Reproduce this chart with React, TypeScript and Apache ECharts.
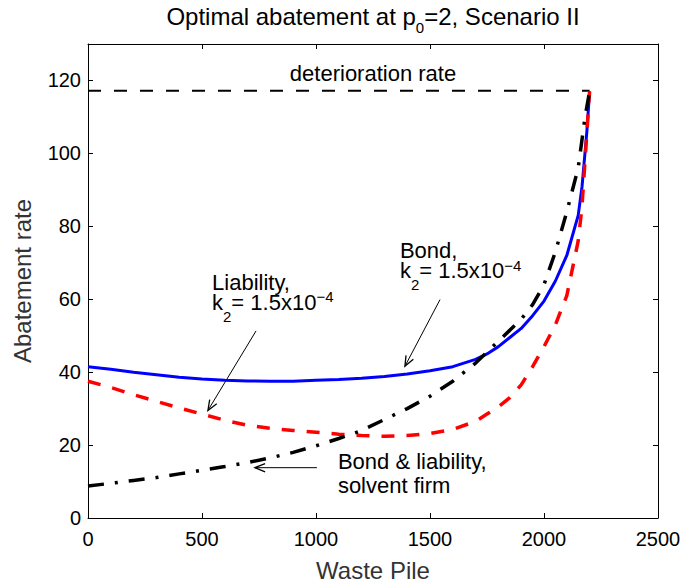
import React, { useEffect, useRef } from "react";
import * as echarts from "echarts";

const FONT = '"Liberation Sans", Arial, Helvetica, sans-serif';

// Axis ranges
const X_MIN = 0;
const X_MAX = 2500;
const X_STEP = 500;
const Y_MIN = 0;
const Y_MAX = 130;
const Y_STEP = 20;

// Bond, k2 = 1.5e-4 (blue solid)
const bondX = [0, 100, 200, 300, 400, 500, 600, 700, 800, 900, 1000, 1100, 1200, 1300, 1400, 1500, 1600, 1700, 1750, 1800, 1850, 1900, 1950, 2000, 2050, 2100, 2150, 2167, 2188, 2200];
const bondY = [41.5, 40.8, 40, 39.3, 38.6, 38.1, 37.8, 37.6, 37.5, 37.5, 37.8, 38, 38.3, 38.8, 39.5, 40.4, 41.5, 43.5, 45, 47, 49.5, 52, 55.5, 59.5, 65, 72, 83, 91, 106, 117];

// Liability, k2 = 1.5e-4 (red dashed)
const liabX = [0, 100, 200, 300, 400, 500, 600, 700, 800, 900, 1000, 1100, 1200, 1300, 1400, 1500, 1600, 1700, 1750, 1800, 1850, 1900, 1950, 2000, 2050, 2100, 2150, 2166, 2180, 2200];
const liabY = [37.5, 35.8, 33.8, 32, 30.2, 28.5, 26.8, 25.4, 24.6, 24, 23.5, 23, 22.6, 22.4, 22.6, 23.2, 24.3, 26.5, 28.5, 30.5, 33, 36.5, 41.5, 47, 53, 61, 76, 85, 98, 117];

// Bond & liability, solvent firm (black dash-dot)
const solvX = [0, 100, 200, 300, 400, 500, 600, 700, 800, 900, 1000, 1100, 1200, 1300, 1400, 1500, 1600, 1700, 1800, 1900, 1950, 2000, 2050, 2100, 2150, 2180, 2200];
const solvY = [8.8, 9.5, 10.3, 11.1, 12.1, 13.1, 14.1, 15.2, 16.5, 18, 19.8, 21.8, 24, 27, 30, 33.4, 37.5, 42.5, 48.5, 54.5, 58.5, 64, 73, 84, 96, 110, 117];

// Deterioration rate (black dashed)
const detX = [0, 2200];
const detY = [117.2, 117.2];

// Title and annotations (data coordinates)
const TITLE = "{m|Optimal abatement at p}{s|0}{m|=2, Scenario II}";
const TITLE_AT = [1250, 137.5];
const annotations = [
  { text: "{m|deterioration rate}", at: [1250, 122], align: "center", lh: 26 },
  { text: "{m|Liability,}\n{m|k}{s|2}{m|= 1.5x10}{p|\u22124}", at: [544, 61.95], align: "left", lh: 20 },
  { text: "{m|Bond,}\n{m|k}{s|2}{m|= 1.5x10}{p|\u22124}", at: [1368, 70.6], align: "left", lh: 20 },
  { text: "{m|Bond & liability,}\n{m|solvent firm}", at: [1096, 12.2], align: "left", lh: 23.4 },
];
const arrows = [
  { from: [737, 51.3], to: [526, 29.5] },
  { from: [1544, 59.9], to: [1390, 41.6] },
  { from: [1004, 13.8], to: [732, 13.8] },
];

const zip = (xs: number[], ys: number[]) => xs.map((x, i) => [x, ys[i]]);

export default function App() {
  const ref = useRef<HTMLDivElement>(null);

  useEffect(() => {
    const el = ref.current!;
    const chart = echarts.init(el, null, { renderer: "svg" });

    const axisCommon = {
      type: "value" as const,
      axisLine: { show: true, onZero: false, lineStyle: { color: "#000", width: 1 } },
      axisTick: { show: true, inside: true, length: 5, lineStyle: { color: "#000", width: 1 } },
      splitLine: { show: false },
    };

    chart.setOption({
      animation: false,
      backgroundColor: "#fff",
      grid: { left: 88, right: 28, top: 44, bottom: 68, containLabel: false },
      xAxis: [
        {
          ...axisCommon,
          position: "bottom",
          min: X_MIN,
          max: X_MAX,
          interval: X_STEP,
          name: "Waste Pile",
          nameLocation: "middle",
          nameGap: 40,
          nameTextStyle: { fontSize: 24, color: "#333", fontFamily: FONT },
          axisLabel: {
            fontSize: 20,
            color: "#000",
            fontFamily: FONT,
            margin: 11,
            formatter: (v: number) => String(v),
          },
        },
        {
          ...axisCommon,
          position: "top",
          min: X_MIN,
          max: X_MAX,
          interval: X_STEP,
          axisLabel: { show: false },
        },
      ],
      yAxis: [
        {
          ...axisCommon,
          position: "left",
          min: Y_MIN,
          max: Y_MAX,
          interval: Y_STEP,
          name: "Abatement rate",
          nameLocation: "middle",
          nameGap: 54,
          nameTextStyle: { fontSize: 24, color: "#333", fontFamily: FONT },
          axisLabel: {
            fontSize: 20,
            color: "#000",
            fontFamily: FONT,
            margin: 7,
            showMaxLabel: false,
            formatter: (v: number) => String(v),
          },
        },
        {
          ...axisCommon,
          position: "right",
          min: Y_MIN,
          max: Y_MAX,
          interval: Y_STEP,
          axisLabel: { show: false },
        },
      ],
      series: [
        {
          name: "deterioration rate",
          type: "line",
          data: zip(detX, detY),
          symbol: "none",
          lineStyle: { color: "#000", width: 2, type: [13, 13], cap: "butt" },
        },
        {
          name: "Bond",
          type: "line",
          data: zip(bondX, bondY),
          symbol: "none",
          lineStyle: { color: "#0000ff", width: 3 },
        },
        {
          name: "Liability",
          type: "line",
          data: zip(liabX, liabY),
          symbol: "none",
          lineStyle: { color: "#ff0000", width: 3.5, type: [13, 12], cap: "butt" },
        },
        {
          name: "Bond & liability, solvent firm",
          type: "line",
          data: zip(solvX, solvY),
          symbol: "none",
          lineStyle: { color: "#000", width: 3.5, type: [16, 11, 3, 11], cap: "butt" },
        },
      ],
    });

    const px = (p: number[]) => chart.convertToPixel({ seriesIndex: 1 }, p) as number[];

    const rich = (size: number, subShift: number, lh: number) => ({
      m: { fontSize: size, fontFamily: FONT, fill: "#000", color: "#000", lineHeight: lh },
      s: {
        fontSize: 15,
        fontFamily: FONT,
        fill: "#000",
        color: "#000",
        lineHeight: lh,
        padding: [subShift * 2, 0, 0, 0],
      },
      p: { fontSize: 15, fontFamily: FONT, fill: "#000", color: "#000", lineHeight: lh, padding: [0, 0, 11, 0] },
    });

    const graphics: any[] = [];
    const tp = px(TITLE_AT);
    graphics.push({
      type: "text",
      x: tp[0],
      y: tp[1],
      style: { text: TITLE, align: "center", verticalAlign: "middle", rich: rich(24, 11, 28) },
    });
    annotations.forEach((a) => {
      const p = px(a.at);
      graphics.push({
        type: "text",
        x: p[0],
        y: p[1],
        style: { text: a.text, align: a.align, verticalAlign: "middle", rich: rich(22, 14, a.lh) },
      });
    });
    arrows.forEach((a) => {
      const p0 = px(a.from);
      const p1 = px(a.to);
      const dx = p1[0] - p0[0];
      const dy = p1[1] - p0[1];
      const len = Math.hypot(dx, dy);
      const ux = dx / len;
      const uy = dy / len;
      const L = 11;
      const th = (22 * Math.PI) / 180;
      const rot = (ang: number) => {
        const bx = -ux;
        const by = -uy;
        return [
          p1[0] + L * (bx * Math.cos(ang) - by * Math.sin(ang)),
          p1[1] + L * (bx * Math.sin(ang) + by * Math.cos(ang)),
        ];
      };
      graphics.push({
        type: "line",
        shape: { x1: p0[0], y1: p0[1], x2: p1[0], y2: p1[1] },
        style: { stroke: "#000", lineWidth: 1 },
      });
      graphics.push({
        type: "polyline",
        shape: { points: [rot(th), p1, rot(-th)] },
        style: { stroke: "#000", lineWidth: 1.3, fill: null },
      });
    });
    chart.setOption({ graphic: graphics });

    return () => chart.dispose();
  }, []);

  return (
    <div
      ref={ref}
      style={{ position: "fixed", left: 0, top: 0, width: 686, height: 587, background: "#fff" }}
    />
  );
}
